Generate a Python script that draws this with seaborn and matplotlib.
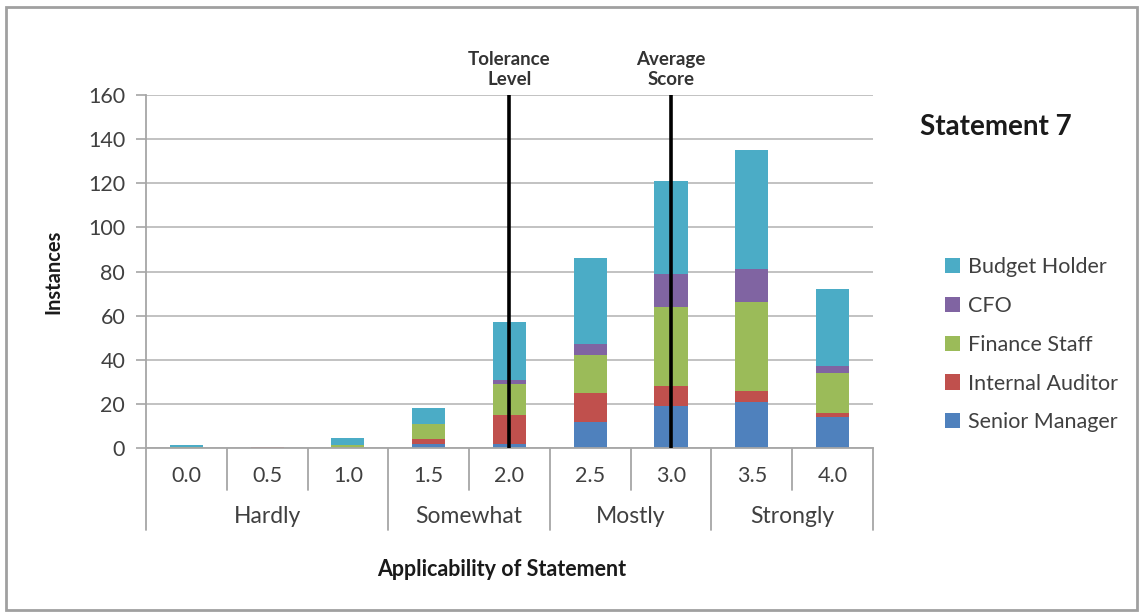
import numpy as np
import pandas as pd
import seaborn as sns
import matplotlib.pyplot as plt
import matplotlib.patches as patches
import matplotlib.transforms as mtransforms

# data
scores = ["0.0", "0.5", "1.0", "1.5", "2.0", "2.5", "3.0", "3.5", "4.0"]
groups = ["Hardly", "Somewhat", "Mostly", "Strongly"]
group_sizes = [3, 2, 2, 2]

senior_manager = [0, 0, 0, 2, 2, 12, 19, 21, 14]
internal_auditor = [0, 0.5, 0, 2, 13, 13, 9, 5, 2]
finance_staff = [0.5, 0, 1.5, 7, 14, 17, 36, 40, 18]
cfo = [0, 0, 0, 0, 2, 5, 15, 15, 3]
budget_holder = [1, 0, 3, 7, 26, 39, 42, 54, 35]

tolerance_level = 2.0
average_score = 3.0

series = ["Senior Manager", "Internal Auditor", "Finance Staff", "CFO", "Budget Holder"]
colors = ["#4F81BD", "#C0504D", "#9BBB59", "#8064A2", "#4BACC6"]

df = pd.DataFrame({
    "score": scores,
    "Senior Manager": senior_manager,
    "Internal Auditor": internal_auditor,
    "Finance Staff": finance_staff,
    "CFO": cfo,
    "Budget Holder": budget_holder,
})
cum = df[series].cumsum(axis=1)

sns.set_theme(style="white")
plt.rcParams['font.family'] = ['Lato', 'DejaVu Sans']

fig = plt.figure(figsize=(11.43, 6.16), dpi=100)
ax = fig.add_axes([0.1277, 0.2727, 0.636, 0.5731])

# stacked bars: draw cumulative totals from top series down
for name, col in reversed(list(zip(series, colors))):
    sns.barplot(x=df["score"], y=cum[name], color=col, saturation=1,
                width=0.41, ax=ax, order=scores, zorder=2, linewidth=0)

ax.set_ylim(0, 160)
ax.set_xlim(-0.5, len(scores) - 0.5)
ax.set_yticks(np.arange(0, 161, 20))
ax.yaxis.grid(True, color="#BDBDBD", lw=1.3, zorder=0)
ax.set_axisbelow(True)
for s in ["top", "right"]:
    ax.spines[s].set_visible(False)
ax.spines["left"].set_color("#A6A6A6")
ax.spines["bottom"].set_color("#A6A6A6")
ax.spines["left"].set_linewidth(1.3)
ax.spines["bottom"].set_linewidth(1.3)
ax.tick_params(axis="y", left=True, length=7, color="#A6A6A6", width=1.2,
               labelsize=15.5, labelcolor="#404040", pad=8)
ax.set_xticks([])
ax.set_xlabel("")
ax.set_ylabel("Instances", fontsize=14.5, fontweight="bold", color="#1a1a1a", labelpad=18)

# reference lines
trans = mtransforms.blended_transform_factory(ax.transData, ax.transAxes)
for val, label in [(tolerance_level, "Tolerance\nLevel"), (average_score, "Average\nScore")]:
    pos = scores.index(f"{val:.1f}")
    ax.axvline(pos, ymin=0, ymax=1, color="black", lw=2.6, zorder=5)
    ax.text(pos, 1.02, label, transform=trans, ha="center", va="bottom",
            fontsize=13.5, fontweight="bold", color="#333333", linespacing=1.2)

# multi-level category axis
for i, s in enumerate(scores):
    ax.text(i, -0.079, s, transform=trans, ha="center", va="center",
            fontsize=15.5, color="#404040")
bounds = np.concatenate([[0], np.cumsum(group_sizes)]) - 0.5
for i in range(len(scores) + 1):
    x = i - 0.5
    depth = -0.232 if x in bounds else -0.119
    ax.plot([x, x], [0, depth], transform=trans, color="#A6A6A6", lw=1.3, clip_on=False)
for g, a, b in zip(groups, bounds[:-1], bounds[1:]):
    ax.text((a + b) / 2, -0.195, g, transform=trans, ha="center", va="center",
            fontsize=16.5, color="#404040")

ax.text(0.49, -0.345, "Applicability of Statement", transform=ax.transAxes,
        ha="center", va="center", fontsize=15.5, fontweight="bold", color="#1a1a1a")

# title and legend
fig.text(920 / 1143, 1 - 127 / 616, "Statement 7", ha="left", va="center",
         fontsize=20, fontweight="bold", color="#1a1a1a")
handles = [patches.Patch(facecolor=c, edgecolor="none") for c in reversed(colors)]
fig.legend(handles=handles, labels=list(reversed(series)), loc="upper left",
           bbox_to_anchor=(926 / 1143, 1 - 238 / 616), frameon=False,
           fontsize=15.5, labelcolor="#404040", handlelength=0.7, handleheight=0.7,
           handletextpad=0.35, labelspacing=0.87)

# outer frame
fig.patches.append(patches.Rectangle((6 / 1143, 6 / 616), 1 - 12 / 1143, 1 - 13 / 616,
                                     transform=fig.transFigure, fill=False,
                                     edgecolor="#A0A0A0", lw=2))

plt.savefig("out.png", dpi=100)
